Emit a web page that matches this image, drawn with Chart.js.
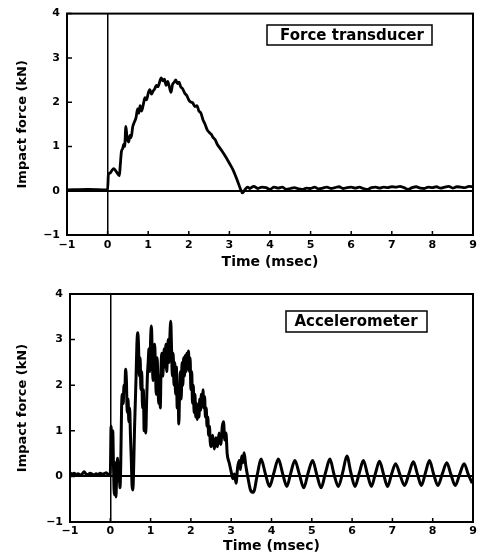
<!DOCTYPE html>
<html>
<head>
<meta charset="utf-8">
<script src="https://cdn.jsdelivr.net/npm/chart.js@4.4.0/dist/chart.umd.min.js"></script>
<style>
    html, body { margin: 0; padding: 0; background: #fff; }
    .panel { position: absolute; left: 0; width: 481px; height: 278px; }
</style>
</head>
<body>
<div class="panel" style="top:0"><canvas id="forceChart"></canvas></div>
<div class="panel" style="top:278px"><canvas id="accelChart"></canvas></div>
<script>
// axis ticks (ms, kN)
const xTicks = [-1, 0, 1, 2, 3, 4, 5, 6, 7, 8, 9];
const yTicks = [-1, 0, 1, 2, 3, 4];

// Force transducer trace
const forceTime = [
    -1.00, -0.50, 0.00, 0.02, 0.06, 0.10, 0.15, 0.20, 0.25, 0.29, 0.31, 0.34, 0.37, 0.40, 0.42, 0.45,
    0.48, 0.52, 0.55, 0.58, 0.62, 0.66, 0.70, 0.74, 0.77, 0.80, 0.84, 0.88, 0.92, 0.96, 1.00, 1.04,
    1.08, 1.12, 1.16, 1.20, 1.24, 1.28, 1.32, 1.36, 1.40, 1.44, 1.48, 1.52, 1.56, 1.60, 1.64, 1.68,
    1.72, 1.76, 1.80, 1.85, 1.90, 1.95, 2.00, 2.05, 2.10, 2.15, 2.20, 2.25, 2.30, 2.35, 2.40, 2.45,
    2.50, 2.55, 2.60, 2.65, 2.70, 2.80, 2.90, 3.00, 3.10, 3.20, 3.28, 3.32, 3.38, 3.45, 3.50, 3.60,
    3.70, 3.80, 3.90, 4.00, 4.10, 4.20, 4.30, 4.40, 4.50, 4.60, 4.70, 4.80, 4.90, 5.00, 5.10, 5.20,
    5.30, 5.40, 5.50, 5.60, 5.70, 5.80, 5.90, 6.00, 6.10, 6.20, 6.30, 6.40, 6.50, 6.60, 6.70, 6.80,
    6.90, 7.00, 7.10, 7.20, 7.30, 7.40, 7.50, 7.60, 7.70, 7.80, 7.90, 8.00, 8.10, 8.20, 8.30, 8.40,
    8.50, 8.60, 8.70, 8.80, 8.90, 9.00
];
const forceValue = [
    0.02, 0.03, 0.02, 0.38, 0.40, 0.45, 0.50, 0.45, 0.38, 0.34, 0.55, 0.88, 0.95, 1.05, 1.00, 1.45,
    1.20, 1.10, 1.25, 1.20, 1.45, 1.55, 1.65, 1.85, 1.75, 1.92, 1.80, 1.95, 2.10, 2.05, 2.20, 2.28,
    2.18, 2.25, 2.30, 2.38, 2.35, 2.45, 2.55, 2.48, 2.52, 2.38, 2.47, 2.35, 2.22, 2.40, 2.45, 2.50,
    2.42, 2.45, 2.35, 2.30, 2.20, 2.15, 2.05, 2.00, 1.98, 1.90, 1.92, 1.80, 1.75, 1.60, 1.50, 1.38,
    1.32, 1.28, 1.20, 1.15, 1.05, 0.92, 0.78, 0.62, 0.45, 0.22, 0.02, -0.05, 0.02, 0.08, 0.05, 0.10,
    0.05, 0.08, 0.07, 0.03, 0.08, 0.06, 0.08, 0.03, 0.05, 0.07, 0.04, 0.03, 0.06, 0.05, 0.08, 0.04,
    0.06, 0.08, 0.05, 0.07, 0.09, 0.05, 0.07, 0.08, 0.06, 0.08, 0.05, 0.03, 0.07, 0.08, 0.06, 0.08,
    0.07, 0.09, 0.08, 0.10, 0.07, 0.03, 0.07, 0.09, 0.06, 0.05, 0.08, 0.07, 0.09, 0.06, 0.08, 0.10,
    0.06, 0.09, 0.08, 0.07, 0.10, 0.09
];

// Accelerometer trace
const accelTime = [
    -1.00, -0.95, -0.90, -0.85, -0.80, -0.75, -0.70, -0.65, -0.60, -0.55, -0.50, -0.45, -0.40, -0.35, -0.30, -0.25,
    -0.20, -0.15, -0.10, -0.05, 0.00, 0.02, 0.04, 0.06, 0.08, 0.10, 0.12, 0.14, 0.16, 0.18, 0.20, 0.22,
    0.24, 0.26, 0.28, 0.30, 0.32, 0.34, 0.36, 0.38, 0.40, 0.42, 0.44, 0.46, 0.48, 0.50, 0.52, 0.54,
    0.56, 0.58, 0.60, 0.62, 0.64, 0.66, 0.68, 0.70, 0.72, 0.74, 0.76, 0.78, 0.80, 0.82, 0.84, 0.86,
    0.88, 0.90, 0.92, 0.94, 0.96, 0.98, 1.00, 1.02, 1.04, 1.06, 1.08, 1.10, 1.12, 1.14, 1.16, 1.18,
    1.20, 1.22, 1.24, 1.26, 1.28, 1.30, 1.32, 1.34, 1.36, 1.38, 1.40, 1.42, 1.44, 1.46, 1.48, 1.50,
    1.52, 1.54, 1.56, 1.58, 1.60, 1.62, 1.64, 1.66, 1.68, 1.70, 1.72, 1.74, 1.76, 1.78, 1.80, 1.82,
    1.84, 1.86, 1.88, 1.90, 1.92, 1.94, 1.96, 1.98, 2.00, 2.02, 2.04, 2.06, 2.08, 2.10, 2.12, 2.14,
    2.16, 2.18, 2.20, 2.22, 2.24, 2.26, 2.28, 2.30, 2.32, 2.34, 2.36, 2.38, 2.40, 2.42, 2.44, 2.46,
    2.48, 2.50, 2.54, 2.58, 2.62, 2.66, 2.70, 2.74, 2.78, 2.81, 2.84, 2.87, 2.90, 2.95, 3.00, 3.04,
    3.08, 3.12, 3.16, 3.20, 3.23, 3.26, 3.29, 3.32, 3.36, 3.42, 3.48, 3.55, 3.65, 3.74, 3.85, 3.95,
    4.06, 4.17, 4.28, 4.38, 4.48, 4.58, 4.69, 4.80, 4.91, 5.02, 5.12, 5.23, 5.34, 5.45, 5.55, 5.66,
    5.77, 5.87, 5.97, 6.07, 6.18, 6.28, 6.38, 6.48, 6.58, 6.68, 6.78, 6.88, 6.98, 7.08, 7.19, 7.30,
    7.41, 7.52, 7.62, 7.72, 7.82, 7.92, 8.02, 8.13, 8.24, 8.35, 8.45, 8.56, 8.67, 8.78, 8.88, 8.98
];
const accelValue = [
    0.08, 0.05, 0.07, 0.04, 0.06, 0.03, 0.05, 0.10, 0.05, 0.04, 0.07, 0.05, 0.03, 0.06, 0.04, 0.07,
    0.05, 0.06, 0.08, 0.04, 0.05, 1.10, 0.60, 1.00, 0.20, -0.40, 0.30, -0.45, 0.10, 0.40, -0.10, 0.20,
    -0.25, 0.30, 1.50, 1.80, 1.60, 2.00, 1.90, 2.35, 2.10, 1.40, 1.70, 1.20, 1.50, 0.90, 0.40, -0.20,
    -0.30, 0.20, 1.00, 1.60, 2.20, 2.90, 3.15, 2.90, 2.20, 2.60, 1.90, 2.30, 1.50, 1.90, 1.00, 1.40,
    0.95, 1.60, 2.20, 2.50, 2.80, 2.30, 3.00, 3.30, 2.70, 2.10, 2.60, 2.90, 2.40, 1.80, 2.60, 2.20,
    1.60, 2.20, 1.50, 2.40, 2.70, 2.20, 2.50, 2.80, 2.40, 2.90, 2.30, 2.70, 3.00, 2.50, 3.10, 3.40,
    2.80, 2.20, 2.70, 2.00, 2.50, 1.80, 2.40, 1.50, 2.00, 1.15, 1.90, 2.30, 1.70, 2.50, 2.00, 2.60,
    2.20, 2.65, 2.30, 2.70, 2.40, 2.75, 2.30, 2.60, 1.90, 2.30, 1.60, 2.00, 1.40, 1.80, 1.30, 1.60,
    1.25, 1.50, 1.30, 1.70, 1.45, 1.80, 1.60, 1.90, 1.50, 1.75, 1.30, 1.50, 1.10, 1.30, 0.90, 1.10,
    0.75, 0.65, 0.90, 0.60, 0.85, 0.65, 0.95, 0.70, 1.10, 1.20, 0.80, 0.95, 0.50, 0.30, 0.10, -0.05,
    0.05, -0.15, 0.20, 0.35, 0.15, 0.45, 0.30, 0.52, 0.25, -0.05, -0.30, -0.35, 0.05, 0.38, 0.05, -0.22,
    0.08, 0.38, 0.05, -0.22, 0.08, 0.35, 0.05, -0.25, 0.08, 0.35, 0.05, -0.25, 0.08, 0.38, 0.05, -0.22,
    0.10, 0.45, 0.08, -0.22, 0.08, 0.35, 0.05, -0.22, 0.07, 0.33, 0.05, -0.22, 0.05, 0.28, 0.03, -0.20,
    0.06, 0.32, 0.05, -0.20, 0.08, 0.35, 0.06, -0.20, 0.06, 0.30, 0.05, -0.20, 0.05, 0.28, 0.05, -0.15
];

const FONT = '"DejaVu Sans", sans-serif';

// frame, inward ticks and the boxed caption
const framePlugin = {
    id: 'frame',
    afterDraw(chart, args, opts) {
        const { ctx, chartArea: a, scales: { x, y } } = chart;
        ctx.save();
        ctx.strokeStyle = '#000';
        ctx.lineWidth = 2;
        ctx.strokeRect(a.left, a.top, a.right - a.left, a.bottom - a.top);

        ctx.lineWidth = 1.5;
        ctx.beginPath();
        x.ticks.forEach(t => {
            const px = x.getPixelForValue(t.value);
            ctx.moveTo(px, a.bottom);
            ctx.lineTo(px, a.bottom - 4);
        });
        y.ticks.forEach(t => {
            const py = y.getPixelForValue(t.value);
            ctx.moveTo(a.left, py);
            ctx.lineTo(a.left + 5, py);
        });
        ctx.stroke();

        // caption box
        const [x0, y0, x1, y1] = opts.box;
        ctx.fillStyle = '#fff';
        ctx.fillRect(x0, y0, x1 - x0, y1 - y0);
        ctx.lineWidth = 1.5;
        ctx.strokeRect(x0, y0, x1 - x0, y1 - y0);
        ctx.fillStyle = '#000';
        ctx.font = 'bold 15px ' + FONT;
        ctx.textAlign = 'center';
        ctx.textBaseline = 'middle';
        ctx.fillText(opts.text, opts.textX, (y0 + y1) / 2 + 1);
        ctx.restore();
    }
};

function makeChart(id, times, values, layout) {
    const points = times.map((t, i) => ({ x: t, y: values[i] }));
    const zeroLine = (ctx) => ctx.tick && ctx.tick.value === 0 ? '#000' : 'rgba(0,0,0,0)';
    return new Chart(document.getElementById(id).getContext('2d'), {
        type: 'line',
        data: {
            datasets: [{
                data: points,
                borderColor: '#000',
                borderWidth: layout.lineWidth,
                pointRadius: 0,
                cubicInterpolationMode: 'monotone',
                fill: false
            }]
        },
        options: {
            responsive: true,
            maintainAspectRatio: false,
            animation: false,
            layout: { padding: { top: layout.top, right: 8, left: 0, bottom: 0 } },
            plugins: {
                legend: { display: false },
                tooltip: { enabled: false },
                frame: layout.caption
            },
            scales: {
                x: {
                    type: 'linear',
                    min: xTicks[0],
                    max: xTicks[xTicks.length - 1],
                    afterBuildTicks: (s) => { s.ticks = xTicks.map(v => ({ value: v })); },
                    afterFit: (s) => { s.height = layout.xHeight; },
                    border: { display: false },
                    grid: { color: zeroLine, lineWidth: 1.5, drawTicks: false },
                    ticks: {
                        padding: layout.xPad,
                        color: '#000',
                        font: { family: FONT, size: 11, weight: 'bold' },
                        callback: (v) => String(v).replace('-', '\u2212')
                    },
                    title: {
                        display: true,
                        text: 'Time (msec)',
                        color: '#000',
                        font: { family: FONT, size: 14, weight: 'bold' },
                        padding: { top: 0, bottom: layout.xTitlePad }
                    }
                },
                y: {
                    type: 'linear',
                    min: yTicks[0],
                    max: yTicks[yTicks.length - 1],
                    afterBuildTicks: (s) => { s.ticks = yTicks.map(v => ({ value: v })); },
                    afterFit: (s) => { s.width = layout.yWidth; },
                    border: { display: false },
                    grid: { color: zeroLine, lineWidth: 2, drawTicks: false },
                    ticks: {
                        padding: 7,
                        color: '#000',
                        font: { family: FONT, size: 11, weight: 'bold' },
                        callback: (v) => String(v).replace('-', '\u2212')
                    },
                    title: {
                        display: true,
                        text: 'Impact force (kN)',
                        color: '#000',
                        font: { family: FONT, size: 13, weight: 'bold' },
                        padding: { top: 15, bottom: 0 }
                    }
                }
            }
        },
        plugins: [framePlugin]
    });
}

makeChart('forceChart', forceTime, forceValue, {
    top: 11, xHeight: 43, xPad: 4, xTitlePad: 7, yWidth: 67, lineWidth: 2.8,
    caption: { text: 'Force transducer', box: [267, 25, 432, 45], textX: 352 }
});
makeChart('accelChart', accelTime, accelValue, {
    top: 16, xHeight: 34, xPad: 3, xTitlePad: 1, yWidth: 70, lineWidth: 3,
    caption: { text: 'Accelerometer', box: [286, 33, 427, 54], textX: 356 }
});
</script>
</body>
</html>
